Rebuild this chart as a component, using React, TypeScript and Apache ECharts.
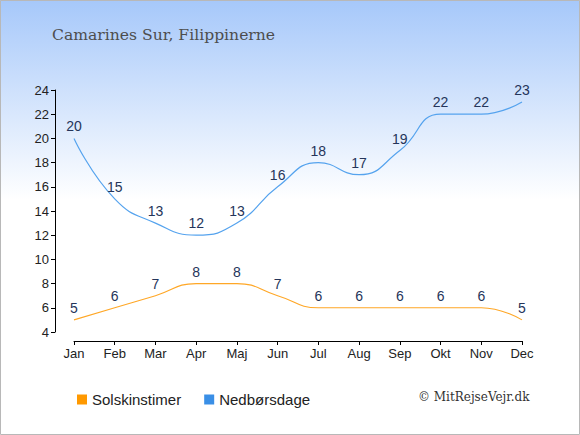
import React, { useEffect, useRef } from "react";
import * as echarts from "echarts";

const months = ["Jan", "Feb", "Mar", "Apr", "Maj", "Jun", "Jul", "Aug", "Sep", "Okt", "Nov", "Dec"];
const sunHours = [5, 6, 7, 8, 8, 7, 6, 6, 6, 6, 6, 5];
const rainDays = [20, 15, 13, 12, 13, 16, 18, 17, 19, 22, 22, 23];
const yTicks = { min: 4, max: 24, interval: 2 };
const titleText = "Camarines Sur, Filippinerne";
const legendNames = ["Solskinstimer", "Nedbørsdage"];
const copyright = "© MitRejseVejr.dk";

export default function App() {
  const ref = useRef<HTMLDivElement>(null);
  useEffect(() => {
    if (!ref.current) return;
    const chart = echarts.init(ref.current, undefined, { renderer: "svg" });
    const sans = "Liberation Sans, Arial, sans-serif";
    const labelStyle = { show: true, position: "top", distance: 5, color: "#25355a", fontSize: 14, fontFamily: sans };
    chart.setOption({
      animation: false,
      backgroundColor: new echarts.graphic.LinearGradient(0, 0, 0, 1, [
        { offset: 0, color: "#a6c8fa" },
        { offset: 0.46, color: "#ffffff" },
        { offset: 1, color: "#ffffff" },
      ]),
      title: {
        text: titleText,
        left: 47,
        top: 22,
        textStyle: { fontFamily: "DejaVu Serif, serif", fontWeight: "normal", fontSize: 15.6, color: "#4d4d4d" },
      },
      legend: {
        data: legendNames,
        left: 72,
        top: 387,
        icon: "rect",
        itemWidth: 10,
        itemHeight: 10,
        itemGap: 23,
        textStyle: { fontFamily: sans, fontSize: 15, color: "#222" },
      },
      graphic: [
        {
          type: "text",
          left: 418,
          top: 391,
          style: { text: copyright, fontFamily: "DejaVu Serif, serif", fontSize: 12, fill: "#333" },
        },
        {
          type: "rect",
          shape: { x: 0.5, y: 0.5, width: 579, height: 434 },
          style: { fill: "none", stroke: "#b8b8b8", lineWidth: 1 },
          silent: true,
        },
      ],
      grid: { left: 74, right: 58, top: 90, bottom: 103 },
      xAxis: {
        type: "category",
        data: months,
        boundaryGap: false,
        offset: 9,
        axisLine: { lineStyle: { color: "#000", width: 1 } },
        axisTick: { show: true, alignWithLabel: true, length: 4, lineStyle: { color: "#000" } },
        axisLabel: { color: "#222", fontSize: 13, margin: 6, fontFamily: sans },
        splitLine: { show: false },
      },
      yAxis: {
        type: "value",
        min: yTicks.min,
        max: yTicks.max,
        interval: yTicks.interval,
        offset: 19,
        axisLine: { show: true, lineStyle: { color: "#000", width: 1 } },
        axisTick: { show: true, length: 4, lineStyle: { color: "#000" } },
        axisLabel: { color: "#222", fontSize: 13, margin: 6, fontFamily: sans },
        splitLine: { show: false },
      },
      series: [
        {
          name: legendNames[0],
          type: "line",
          data: sunHours,
          smooth: 0.5,
          symbol: "circle",
          symbolSize: 0,
          showSymbol: true,
          itemStyle: { color: "#ff9900" },
          lineStyle: { color: "#ffa726", width: 1.1 },
          label: labelStyle,
        },
        {
          name: legendNames[1],
          type: "line",
          data: rainDays,
          smooth: 0.5,
          symbol: "circle",
          symbolSize: 0,
          showSymbol: true,
          itemStyle: { color: "#3a8fe6" },
          lineStyle: { color: "#55a3ee", width: 1.2 },
          label: labelStyle,
        },
      ],
    });
    return () => chart.dispose();
  }, []);
  return (
    <div style={{ position: "absolute", left: 0, top: 0 }}>
      <div ref={ref} style={{ width: 580, height: 435 }} />
    </div>
  );
}
